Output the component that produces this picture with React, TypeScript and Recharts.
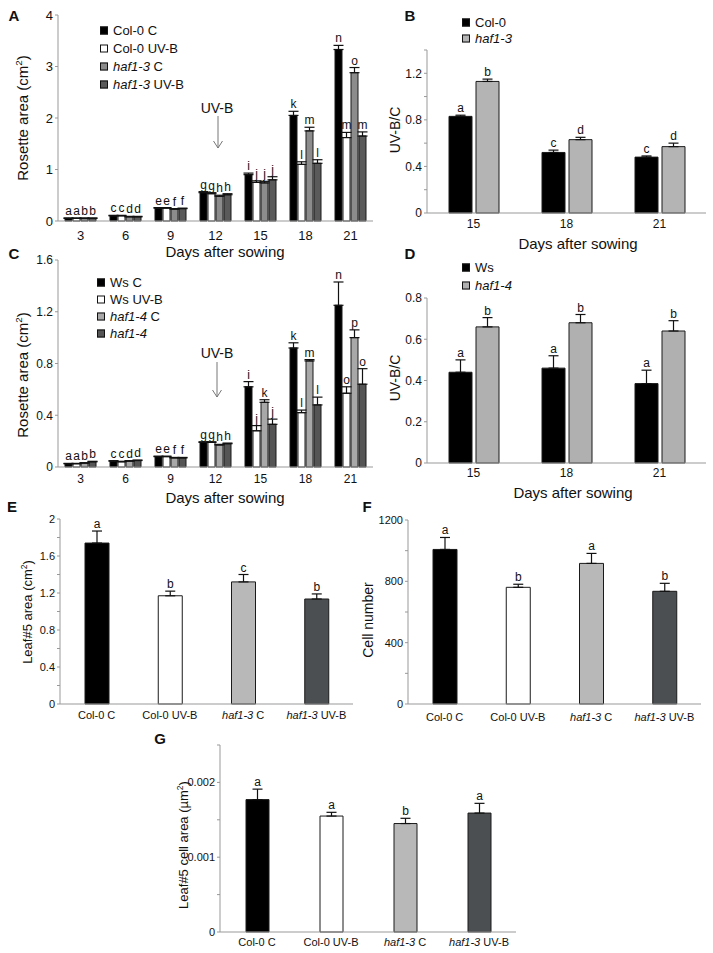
import React from 'react';
import { BarChart, Bar, XAxis, YAxis, ErrorBar, LabelList, Cell } from 'recharts';

const FONT = 'Arial, "Liberation Sans", Helvetica, sans-serif';

// --- A: rosette area, Col-0 / haf1-3
const daysA = ['3', '6', '9', '12', '15', '18', '21'];
const colCA = [0.05, 0.1, 0.25, 0.55, 0.9, 2.05, 3.33];
const colCAErr = [0.01, 0.01, 0.01, 0.02, 0.03, 0.08, 0.08];
const colCALet = ['a', 'c', 'e', 'g', 'i', 'k', 'n'];
const colUVA = [0.05, 0.1, 0.25, 0.53, 0.75, 1.1, 1.62];
const colUVAErr = [0.01, 0.01, 0.01, 0.02, 0.03, 0.05, 0.1];
const colUVALet = ['a', 'c', 'e', 'g', 'j', 'l', 'm'];
const hafCA = [0.05, 0.08, 0.23, 0.48, 0.74, 1.75, 2.88];
const hafCAErr = [0.01, 0.01, 0.01, 0.02, 0.03, 0.07, 0.1];
const hafCALet = ['b', 'd', 'f', 'h', 'j', 'm', 'o'];
const hafUVA = [0.05, 0.08, 0.24, 0.51, 0.8, 1.12, 1.65];
const hafUVAErr = [0.01, 0.01, 0.01, 0.02, 0.06, 0.07, 0.08];
const hafUVALet = ['b', 'd', 'f', 'h', 'j', 'l', 'm'];

// --- B: UV-B/C ratio, Col-0 / haf1-3
const daysB = ['15', '18', '21'];
const colB = [0.83, 0.52, 0.48];
const colBErr = [0.01, 0.02, 0.01];
const colBLet = ['a', 'c', 'c'];
const hafB = [1.13, 0.63, 0.57];
const hafBErr = [0.02, 0.02, 0.03];
const hafBLet = ['b', 'd', 'd'];

// --- C: rosette area, Ws / haf1-4
const daysC = ['3', '6', '9', '12', '15', '18', '21'];
const wsCC = [0.025, 0.045, 0.08, 0.19, 0.62, 0.92, 1.25];
const wsCCErr = [0.003, 0.004, 0.004, 0.005, 0.04, 0.04, 0.18];
const wsCCLet = ['a', 'c', 'e', 'g', 'i', 'k', 'n'];
const wsUVC = [0.025, 0.04, 0.08, 0.19, 0.28, 0.42, 0.57];
const wsUVCErr = [0.003, 0.004, 0.004, 0.005, 0.04, 0.02, 0.05];
const wsUVCLet = ['a', 'c', 'e', 'g', 'j', 'l', 'o'];
const hafCC = [0.03, 0.045, 0.07, 0.17, 0.5, 0.82, 1.0];
const hafCCErr = [0.003, 0.004, 0.004, 0.005, 0.02, 0.01, 0.06];
const hafCCLet = ['b', 'd', 'f', 'h', 'k', 'm', 'p'];
const hafUVC = [0.04, 0.05, 0.07, 0.18, 0.33, 0.48, 0.64];
const hafUVCErr = [0.004, 0.004, 0.004, 0.005, 0.04, 0.06, 0.12];
const hafUVCLet = ['b', 'd', 'f', 'h', 'j', 'l', 'o'];

// --- D: UV-B/C ratio, Ws / haf1-4
const daysD = ['15', '18', '21'];
const wsD = [0.44, 0.46, 0.385];
const wsDErr = [0.06, 0.06, 0.065];
const wsDLet = ['a', 'a', 'a'];
const hafD = [0.66, 0.68, 0.64];
const hafDErr = [0.045, 0.04, 0.05];
const hafDLet = ['b', 'b', 'b'];

// --- E, F, G: leaf #5
const genotypes = ['Col-0 C', 'Col-0 UV-B', 'haf1-3 C', 'haf1-3 UV-B'];
const leafArea = [1.74, 1.17, 1.32, 1.135];
const leafAreaErr = [0.13, 0.05, 0.08, 0.055];
const leafAreaLet = ['a', 'b', 'c', 'b'];
const cellNumber = [1008, 761, 917, 735];
const cellNumberErr = [78, 20, 65, 52];
const cellNumberLet = ['a', 'b', 'a', 'b'];
const cellArea = [0.00177, 0.00155, 0.00145, 0.00159];
const cellAreaErr = [0.00014, 0.00005, 0.00007, 0.00013];
const cellAreaLet = ['a', 'a', 'b', 'a'];

type Series = { values: number[]; errs: number[]; letters: string[]; fill: string; cellFills?: string[] };

const buildRows = (cats: string[], series: Series[]) =>
  cats.map((c, i) => {
    const row: any = { cat: c };
    series.forEach((s, k) => {
      row['v' + k] = s.values[i];
      row['e' + k] = [0, s.errs[i]];
      row['l' + k] = s.letters[i];
    });
    return row;
  });

const letterContent = (s: Series, fontSize: number) => (p: any) => {
  const { x, y, width, height, value, index } = p;
  const v = s.values[index];
  const e = s.errs[index];
  const errPx = v > 0 ? (Math.abs(height) * e) / v : 0;
  return (
    <text x={x + width / 2} y={y - errPx - 3} textAnchor="middle" fontSize={fontSize} fontFamily={FONT} fill="#111">
      {value}
    </text>
  );
};

const CatTick = ({ x, y, payload, fontSize, offset }: any) => {
  const label: string = payload.value;
  const m = label.match(/^(haf1-\d)(.*)$/);
  return (
    <text x={x} y={y + offset} dominantBaseline="central" textAnchor="middle" fontSize={fontSize} fontFamily={FONT} fill="#111">
      {m ? (
        <>
          <tspan fontStyle="italic">{m[1]}</tspan>
          {m[2]}
        </>
      ) : (
        label
      )}
    </text>
  );
};

type PanelProps = {
  left: number;
  top: number;
  width: number;
  height: number;
  margin: { top: number; right: number; left: number; bottom: number };
  cats: string[];
  series: Series[];
  domain: [number, number];
  ticks: number[];
  labelled: number[];
  yWidth: number;
  xHeight: number;
  xTickOffset: number;
  barSize: number;
  barGap: number;
  tickFont: number;
  letterFont: number;
};

const Panel = (p: PanelProps) => {
  const data = buildRows(p.cats, p.series);
  return (
    <div style={{ position: 'absolute', left: p.left, top: p.top }}>
      <BarChart width={p.width} height={p.height} data={data} margin={p.margin} barSize={p.barSize} barGap={p.barGap}>
        <XAxis
          dataKey="cat"
          height={p.xHeight}
          axisLine={{ stroke: '#999' }}
          tickLine={false}
          tickSize={0}
          tickMargin={0}
          interval={0}
          tick={(t: any) => <CatTick {...t} fontSize={p.tickFont} offset={p.xTickOffset} />}
        />
        <YAxis
          width={p.yWidth}
          domain={p.domain}
          ticks={p.ticks}
          interval={0}
          axisLine={{ stroke: '#999' }}
          tickLine={{ stroke: '#999' }}
          tickSize={3}
          tick={{ fontSize: p.tickFont, fill: '#111', fontFamily: FONT }}
          tickFormatter={(v: number) => (p.labelled.includes(v) ? String(v) : '')}
        />
        {p.series.map((s, k) => (
          <Bar key={k} dataKey={'v' + k} fill={s.fill} stroke="#1a1a1a" strokeWidth={1} isAnimationActive={false}>
            {s.cellFills && s.cellFills.map((f, i) => <Cell key={i} fill={f} />)}
            <ErrorBar dataKey={'e' + k} width={5} stroke="#111" strokeWidth={1.2} direction="y" />
            <LabelList dataKey={'l' + k} content={letterContent(s, p.letterFont)} />
          </Bar>
        ))}
      </BarChart>
    </div>
  );
};

const Txt = ({ x, y, size, bold, rotate, children }: any) => (
  <div
    style={{
      position: 'absolute',
      left: x,
      top: y,
      transform: `translate(-50%, -50%)${rotate ? ' rotate(-90deg)' : ''}`,
      whiteSpace: 'nowrap',
      fontSize: size,
      fontWeight: bold ? 700 : 400,
      fontFamily: FONT,
      color: '#111',
      lineHeight: 1,
    }}
  >
    {children}
  </div>
);

const LegendItem = ({ x, y, fill, size, children }: any) => (
  <div
    style={{
      position: 'absolute',
      left: x,
      top: y,
      transform: 'translateY(-50%)',
      display: 'flex',
      alignItems: 'center',
      whiteSpace: 'nowrap',
      fontSize: size,
      fontFamily: FONT,
      color: '#111',
      lineHeight: 1,
    }}
  >
    <span style={{ display: 'inline-block', width: 6, height: 6, background: fill, border: '1px solid #111', marginRight: 5 }} />
    {children}
  </div>
);

const Arrow = ({ x, y1, y2 }: any) => (
  <svg style={{ position: 'absolute', left: x - 6, top: y1 }} width={12} height={y2 - y1 + 2}>
    <line x1={6} y1={0} x2={6} y2={y2 - y1} stroke="#777" strokeWidth={1} />
    <polyline points={`1.5,${y2 - y1 - 7} 6,${y2 - y1} 10.5,${y2 - y1 - 7}`} fill="none" stroke="#777" strokeWidth={1} />
  </svg>
);

const sup2 = <sup style={{ fontSize: '0.65em' }}>2</sup>;

const leafFills = ['#000', '#fff', '#b8b8b8', '#4b4f52'];

export default function App() {
  const seriesA: Series[] = [
    { values: colCA, errs: colCAErr, letters: colCALet, fill: '#000' },
    { values: colUVA, errs: colUVAErr, letters: colUVALet, fill: '#fff' },
    { values: hafCA, errs: hafCAErr, letters: hafCALet, fill: '#8c8c8c' },
    { values: hafUVA, errs: hafUVAErr, letters: hafUVALet, fill: '#5a5a5a' },
  ];
  const seriesB: Series[] = [
    { values: colB, errs: colBErr, letters: colBLet, fill: '#000' },
    { values: hafB, errs: hafBErr, letters: hafBLet, fill: '#b4b4b4' },
  ];
  const seriesC: Series[] = [
    { values: wsCC, errs: wsCCErr, letters: wsCCLet, fill: '#000' },
    { values: wsUVC, errs: wsUVCErr, letters: wsUVCLet, fill: '#fff' },
    { values: hafCC, errs: hafCCErr, letters: hafCCLet, fill: '#a8a8a8' },
    { values: hafUVC, errs: hafUVCErr, letters: hafUVCLet, fill: '#555' },
  ];
  const seriesD: Series[] = [
    { values: wsD, errs: wsDErr, letters: wsDLet, fill: '#000' },
    { values: hafD, errs: hafDErr, letters: hafDLet, fill: '#b0b0b0' },
  ];
  const seriesE: Series[] = [{ values: leafArea, errs: leafAreaErr, letters: leafAreaLet, fill: '#000', cellFills: leafFills }];
  const seriesF: Series[] = [{ values: cellNumber, errs: cellNumberErr, letters: cellNumberLet, fill: '#000', cellFills: leafFills }];
  const seriesG: Series[] = [{ values: cellArea, errs: cellAreaErr, letters: cellAreaLet, fill: '#000', cellFills: leafFills }];

  return (
    <div style={{ position: 'fixed', left: 0, top: 0, width: 713, height: 953, background: '#fff', overflow: 'hidden' }}>
      {/* A */}
      <Panel
        left={0} top={0} width={380} height={262}
        margin={{ top: 15, right: 7, left: 0, bottom: 0 }}
        cats={daysA} series={seriesA} domain={[0, 4]} ticks={[0, 1, 2, 3, 4]} labelled={[0, 1, 2, 3, 4]}
        yWidth={58} xHeight={41} xTickOffset={14} barSize={7} barGap={1} tickFont={13} letterFont={12}
      />
      <Txt x={14} y={15} size={15} bold>A</Txt>
      <Txt x={22} y={118} size={15} rotate>Rosette area (cm{sup2})</Txt>
      <Txt x={225} y={251} size={15}>Days after sowing</Txt>
      <LegendItem x={100} y={30} fill="#000" size={13}>Col-0 C</LegendItem>
      <LegendItem x={100} y={48} fill="#fff" size={13}>Col-0 UV-B</LegendItem>
      <LegendItem x={100} y={66} fill="#8c8c8c" size={13}><i>haf1-3</i>&nbsp;C</LegendItem>
      <LegendItem x={100} y={84} fill="#5a5a5a" size={13}><i>haf1-3</i>&nbsp;UV-B</LegendItem>
      <Txt x={217} y={108} size={14}>UV-B</Txt>
      <Arrow x={218} y1={116} y2={148} />

      {/* B */}
      <Panel
        left={360} top={0} width={353} height={262}
        margin={{ top: 50, right: 7, left: 0, bottom: 0 }}
        cats={daysB} series={seriesB} domain={[0, 1.4]} ticks={[0, 0.2, 0.4, 0.6, 0.8, 1.0, 1.2, 1.4]} labelled={[0, 0.4, 0.8, 1.2]}
        yWidth={67} xHeight={49} xTickOffset={11} barSize={23} barGap={4} tickFont={12} letterFont={12}
      />
      <Txt x={410} y={15} size={15} bold>B</Txt>
      <Txt x={395} y={130} size={14} rotate>UV-B/C</Txt>
      <Txt x={578} y={243} size={15}>Days after sowing</Txt>
      <LegendItem x={462} y={22} fill="#000" size={13}>Col-0</LegendItem>
      <LegendItem x={462} y={38} fill="#b4b4b4" size={13}><i>haf1-3</i></LegendItem>

      {/* C */}
      <Panel
        left={0} top={250} width={380} height={262}
        margin={{ top: 10, right: 7, left: 0, bottom: 0 }}
        cats={daysC} series={seriesC} domain={[0, 1.6]} ticks={[0, 0.4, 0.8, 1.2, 1.6]} labelled={[0, 0.4, 0.8, 1.2, 1.6]}
        yWidth={58} xHeight={45} xTickOffset={12} barSize={7} barGap={1} tickFont={12} letterFont={12}
      />
      <Txt x={14} y={253} size={15} bold>C</Txt>
      <Txt x={22} y={375} size={15} rotate>Rosette area (cm{sup2})</Txt>
      <Txt x={225} y={497} size={15}>Days after sowing</Txt>
      <LegendItem x={97} y={282} fill="#000" size={13}>Ws C</LegendItem>
      <LegendItem x={97} y={299} fill="#fff" size={13}>Ws UV-B</LegendItem>
      <LegendItem x={97} y={316} fill="#a8a8a8" size={13}><i>haf1-4</i>&nbsp;C</LegendItem>
      <LegendItem x={97} y={333} fill="#555" size={13}><i>haf1-4</i></LegendItem>
      <Txt x={217} y={353} size={14}>UV-B</Txt>
      <Arrow x={217} y1={362} y2={397} />

      {/* D */}
      <Panel
        left={360} top={250} width={353} height={262}
        margin={{ top: 48, right: 7, left: 0, bottom: 0 }}
        cats={daysD} series={seriesD} domain={[0, 0.8]} ticks={[0, 0.2, 0.4, 0.6, 0.8]} labelled={[0, 0.2, 0.4, 0.6, 0.8]}
        yWidth={67} xHeight={49} xTickOffset={10} barSize={23} barGap={4} tickFont={12} letterFont={12}
      />
      <Txt x={410} y={253} size={15} bold>D</Txt>
      <Txt x={395} y={378} size={14} rotate>UV-B/C</Txt>
      <Txt x={573} y={492} size={15}>Days after sowing</Txt>
      <LegendItem x={462} y={267} fill="#000" size={13}>Ws</LegendItem>
      <LegendItem x={462} y={285} fill="#b0b0b0" size={13}><i>haf1-4</i></LegendItem>

      {/* E */}
      <Panel
        left={0} top={505} width={370} height={225}
        margin={{ top: 14, right: 17, left: 0, bottom: 0 }}
        cats={genotypes} series={seriesE} domain={[0, 2]}
        ticks={[0, 0.2, 0.4, 0.6, 0.8, 1.0, 1.2, 1.4, 1.6, 1.8, 2]} labelled={[0, 0.4, 0.8, 1.2, 1.6, 2]}
        yWidth={60} xHeight={26} xTickOffset={11} barSize={24} barGap={0} tickFont={11} letterFont={12}
      />
      <Txt x={12} y={506} size={15} bold>E</Txt>
      <Txt x={27} y={612} size={13} rotate>Leaf#5 area (cm{sup2})</Txt>

      {/* F */}
      <Panel
        left={360} top={505} width={353} height={225}
        margin={{ top: 15, right: 12, left: 0, bottom: 0 }}
        cats={genotypes} series={seriesF} domain={[0, 1200]}
        ticks={[0, 200, 400, 600, 800, 1000, 1200]} labelled={[0, 400, 800, 1200]}
        yWidth={48} xHeight={26} xTickOffset={13} barSize={24} barGap={0} tickFont={11} letterFont={12}
      />
      <Txt x={367} y={506} size={15} bold>F</Txt>
      <Txt x={368} y={620} size={14} rotate>Cell number</Txt>

      {/* G */}
      <Panel
        left={150} top={735} width={380} height={218}
        margin={{ top: 10, right: 14, left: 0, bottom: 0 }}
        cats={genotypes} series={seriesG} domain={[0, 0.0025]}
        ticks={[0, 0.0005, 0.001, 0.0015, 0.002, 0.0025]} labelled={[0, 0.001, 0.002]}
        yWidth={70} xHeight={21} xTickOffset={10} barSize={23} barGap={0} tickFont={11} letterFont={12}
      />
      <Txt x={160} y={738} size={15} bold>G</Txt>
      <Txt x={183} y={845} size={13} rotate>Leaf#5 cell area (µm{sup2})</Txt>
    </div>
  );
}
